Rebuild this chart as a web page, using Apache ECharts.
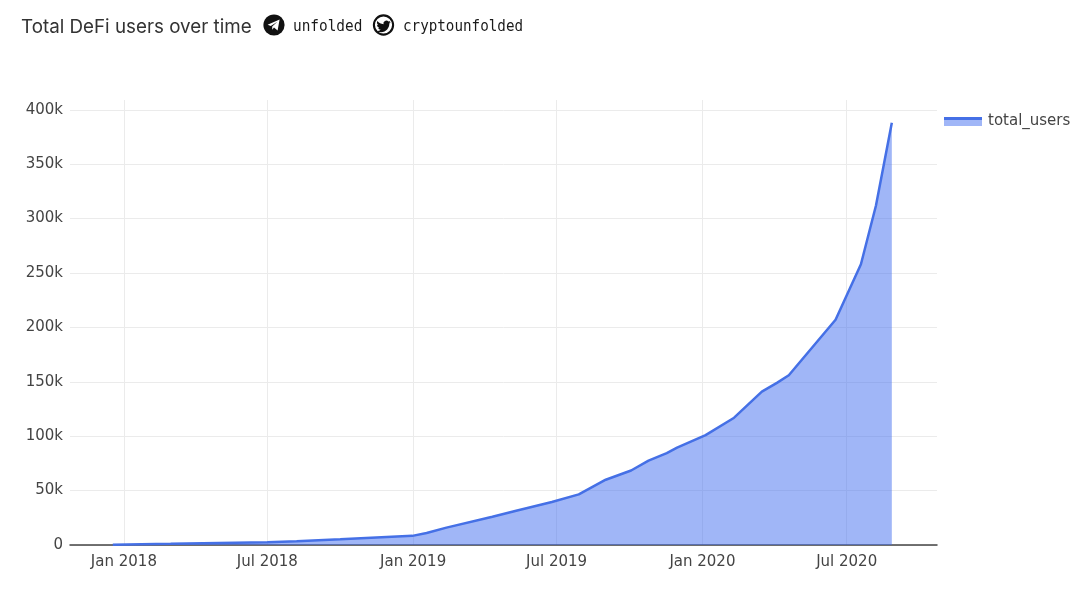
<!DOCTYPE html>
<html lang="en">

<head>
    <meta charset="UTF-8">
    <title>Total DeFi users over time</title>
    <style>
        html, body { margin: 0; padding: 0; background: #fff; }
        #chart { width: 1080px; height: 598px; }
    </style>
    <script src="https://cdn.jsdelivr.net/npm/echarts@6/dist/echarts.min.js"></script>
</head>

<body>
    <div id="chart"></div>
    <script>
        // dates and cumulative users
        var dates = [
            '2017-12-18', '2018-03-01', '2018-07-01', '2018-08-07', '2018-10-01',
            '2018-12-31', '2019-01-18', '2019-02-12', '2019-04-11', '2019-05-11',
            '2019-06-25', '2019-07-29', '2019-09-01', '2019-10-03', '2019-10-25',
            '2019-11-17', '2019-11-30', '2020-01-05', '2020-02-10', '2020-03-16',
            '2020-04-04', '2020-04-19', '2020-06-17', '2020-07-19', '2020-08-07',
            '2020-08-27'
        ];
        var totalUsers = [
            300, 1100, 2500, 3400, 5200,
            8400, 11000, 16000, 26000, 31500,
            39500, 46500, 60000, 68500, 77500,
            84500, 89500, 101000, 117000, 141000,
            149000, 156000, 207000, 258000, 312000,
            388000
        ];
        var monthNames = ['Jan', 'Feb', 'Mar', 'Apr', 'May', 'Jun', 'Jul', 'Aug', 'Sep', 'Oct', 'Nov', 'Dec'];

        var seriesData = dates.map(function (d, i) { return [d, totalUsers[i]]; });

        var lineColor = '#4570e6';
        var fillColor = 'rgba(65,110,240,0.5)';

        // icons as inline svg (no network needed)
        var telegramSvg = '<svg xmlns="http://www.w3.org/2000/svg" width="24" height="24" viewBox="0 0 24 24">' +
            '<circle cx="12" cy="12" r="10.6" fill="#111"/>' +
            '<path d="M5.6 11.8 L17.6 6.6 L15.6 17.4 L12 14.6 L10.2 16.8 L10.2 13.4 L15.4 8.8 L8.8 12.9 Z" fill="#fff"/></svg>';
        var twitterSvg = '<svg xmlns="http://www.w3.org/2000/svg" width="24" height="24" viewBox="0 0 24 24">' +
            '<circle cx="12" cy="12" r="9.6" fill="none" stroke="#111" stroke-width="2.1"/>' +
            '<path transform="translate(4.9 6.2) scale(0.6)" fill="#111" d="M23.953 4.57a10 10 0 01-2.825.775 4.958 4.958 0 002.163-2.723c-.951.555-2.005.959-3.127 1.184a4.92 4.92 0 00-8.384 4.482C7.69 8.095 4.067 6.13 1.64 3.162a4.822 4.822 0 00-.666 2.475c0 1.71.87 3.213 2.188 4.096a4.904 4.904 0 01-2.228-.616v.06a4.923 4.923 0 003.946 4.827 4.996 4.996 0 01-2.212.085 4.936 4.936 0 004.604 3.417 9.867 9.867 0 01-6.102 2.105c-.39 0-.779-.023-1.17-.067a13.995 13.995 0 007.557 2.209c9.053 0 13.998-7.496 13.998-13.985 0-.21 0-.42-.015-.63A9.935 9.935 0 0024 4.59z"/></svg>';
        function svgUrl(s) { return 'data:image/svg+xml;charset=utf-8,' + encodeURIComponent(s); }

        var chart = echarts.init(document.getElementById('chart'));
        chart.setOption({
            useUTC: true,
            animation: false,
            title: {
                text: 'Total DeFi users over time',
                left: 16,
                top: 13,
                textStyle: { fontFamily: 'Inter', fontSize: 18.8, fontWeight: 'normal', color: '#333' }
            },
            graphic: [
                {
                    type: 'image', x: 262, y: 13,
                    style: { image: svgUrl(telegramSvg), width: 24, height: 24 }
                },
                {
                    type: 'text', x: 293, y: 19, scaleX: 0.9,
                    style: { text: 'unfolded', fontFamily: 'DejaVu Sans Mono', fontSize: 16, fill: '#1a1a1a' }
                },
                {
                    type: 'image', x: 371.5, y: 13,
                    style: { image: svgUrl(twitterSvg), width: 24, height: 24 }
                },
                {
                    type: 'text', x: 403, y: 19, scaleX: 0.89,
                    style: { text: 'cryptounfolded', fontFamily: 'DejaVu Sans Mono', fontSize: 16, fill: '#1a1a1a' }
                }
            ],
            legend: {
                left: 944,
                top: 114,
                padding: 0,
                itemWidth: 38,
                itemHeight: 9,
                itemGap: 6,
                textStyle: { fontFamily: 'DejaVu Sans', fontSize: 15, color: '#444', padding: [1, 0, 0, 1] },
                data: [{
                    name: 'total_users',
                    icon: 'rect',
                    itemStyle: {
                        color: {
                            type: 'linear', x: 0, y: 0, x2: 0, y2: 1,
                            colorStops: [
                                { offset: 0, color: lineColor },
                                { offset: 0.3, color: lineColor },
                                { offset: 0.3, color: '#a0b6f7' },
                                { offset: 1, color: '#a0b6f7' }
                            ]
                        },
                        borderWidth: 0
                    }
                }]
            },
            grid: {
                left: 70,
                right: 143,
                top: 100,
                bottom: 53,
                containLabel: false
            },
            xAxis: {
                type: 'time',
                min: '2017-10-25',
                max: '2020-10-23',
                minInterval: 180 * 86400000,
                maxInterval: 184 * 86400000,
                axisTick: { show: false },
                axisLine: { show: true, lineStyle: { color: '#444', width: 1.5 } },
                axisLabel: {
                    fontFamily: 'DejaVu Sans',
                    fontSize: 15,
                    color: '#444',
                    margin: 10,
                    showMinLabel: false,
                    showMaxLabel: false,
                    formatter: function (value) {
                        var d = new Date(value);
                        if (d.getUTCDate() !== 1 || (d.getUTCMonth() !== 0 && d.getUTCMonth() !== 6)) return '';
                        return monthNames[d.getUTCMonth()] + ' ' + d.getUTCFullYear();
                    }
                },
                splitLine: {
                    show: true,
                    showMinLine: false,
                    showMaxLine: false,
                    lineStyle: { color: '#ebebeb', width: 1 }
                }
            },
            yAxis: {
                type: 'value',
                min: 0,
                max: 409000,
                interval: 50000,
                axisTick: { show: false },
                axisLine: { show: false },
                axisLabel: {
                    fontFamily: 'DejaVu Sans',
                    fontSize: 15,
                    color: '#444',
                    margin: 7,
                    formatter: function (v) {
                        if (v % 50000 !== 0) return '';
                        return v === 0 ? '0' : (v / 1000) + 'k';
                    }
                },
                splitLine: {
                    show: true,
                    showMaxLine: false,
                    lineStyle: { color: '#ebebeb', width: 1 }
                }
            },
            series: [{
                name: 'total_users',
                type: 'line',
                showSymbol: false,
                symbol: 'none',
                lineStyle: { color: lineColor, width: 2.5 },
                itemStyle: { color: lineColor },
                areaStyle: { color: fillColor, opacity: 1 },
                data: seriesData
            }]
        });
    </script>
</body>

</html>
